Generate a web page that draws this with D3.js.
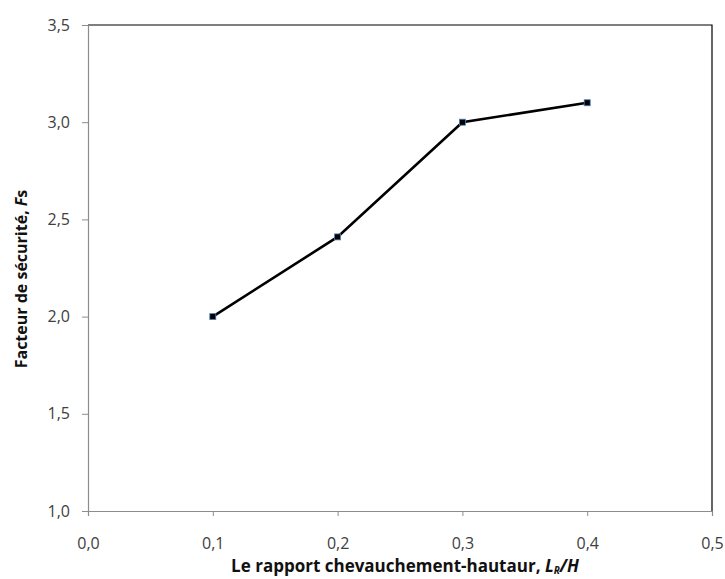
<!DOCTYPE html>
<html>
<head>
<meta charset="utf-8">
<script src="https://cdn.jsdelivr.net/npm/d3@7"></script>
<style>
  html, body { margin: 0; padding: 0; background: #fff; }
  svg { display: block; font-family: "Open Sans", "Liberation Sans", sans-serif; }
</style>
</head>
<body>
<svg id="chart" width="725" height="579"></svg>
<script>
// Safety factor against overlap-to-height ratio
const ratios = [0.1, 0.2, 0.3, 0.4];
const safetyFactors = [2.0, 2.41, 3.0, 3.1];
const xTicks = [0.0, 0.1, 0.2, 0.3, 0.4, 0.5];
const yTicks = [1.0, 1.5, 2.0, 2.5, 3.0, 3.5];

const svg = d3.select("#chart");
const plotLeft = 88, plotRight = 712, plotTop = 25, plotBottom = 511;

const x = d3.scaleLinear().domain([0, 0.5]).range([plotLeft, plotRight]);
const y = d3.scaleLinear().domain([1.0, 3.5]).range([plotBottom, plotTop]);
const fmt = d => d3.format(".1f")(d).replace(".", ",");

// Plot frame: black top and right edges
svg.append("path")
  .attr("d", `M${plotLeft},${plotTop}H${plotRight}V${plotBottom}`)
  .attr("fill", "none").attr("stroke", "#000").attr("stroke-width", 1.2);

const xAxis = svg.append("g")
  .attr("transform", `translate(0,${plotBottom})`)
  .call(d3.axisBottom(x).tickValues(xTicks).tickFormat(fmt).tickSize(5).tickPadding(22));
const yAxis = svg.append("g")
  .attr("transform", `translate(${plotLeft},0)`)
  .call(d3.axisLeft(y).tickValues(yTicks).tickFormat(fmt).tickSize(6).tickPadding(12));

[xAxis, yAxis].forEach(g => {
  g.select(".domain").attr("stroke", "#8c8c8c").attr("stroke-width", 1.2);
  g.selectAll(".tick line").attr("stroke", "#8c8c8c");
  g.selectAll(".tick text").attr("fill", "#404040")
    .style("font-size", "16px").style("font-family", "\"Open Sans\", sans-serif");
});

const pts = ratios.map((r, i) => [r, safetyFactors[i]]);

svg.append("path")
  .datum(pts)
  .attr("fill", "none")
  .attr("stroke", "#000")
  .attr("stroke-width", 2.6)
  .attr("d", d3.line().x(d => x(d[0])).y(d => y(d[1])));

svg.selectAll("rect.marker")
  .data(pts).enter().append("rect")
  .attr("class", "marker")
  .attr("x", d => x(d[0]) - 3)
  .attr("y", d => y(d[1]) - 3)
  .attr("width", 6).attr("height", 6)
  .attr("fill", "#000")
  .attr("stroke", "#4f81bd").attr("stroke-width", 0.8);

// Axis titles
const xt = svg.append("text")
  .attr("x", 405).attr("y", 572)
  .attr("text-anchor", "middle")
  .style("font-size", "17px").style("font-weight", "bold").attr("fill", "#111");
xt.append("tspan").text("Le rapport chevauchement-hautaur, ");
xt.append("tspan").style("font-style", "italic").text("L");
xt.append("tspan").style("font-style", "italic").style("font-size", "10px").attr("dy", 2).text("R");
xt.append("tspan").style("font-style", "italic").attr("dy", -2).text("/H");

const yt = svg.append("text")
  .attr("transform", "translate(27,279) rotate(-90)")
  .attr("text-anchor", "middle")
  .style("font-size", "16px").style("font-weight", "bold").attr("fill", "#111");
yt.append("tspan").text("Facteur de sécurité, ");
yt.append("tspan").style("font-style", "italic").text("F");
yt.append("tspan").text("s");
</script>
</body>
</html>
